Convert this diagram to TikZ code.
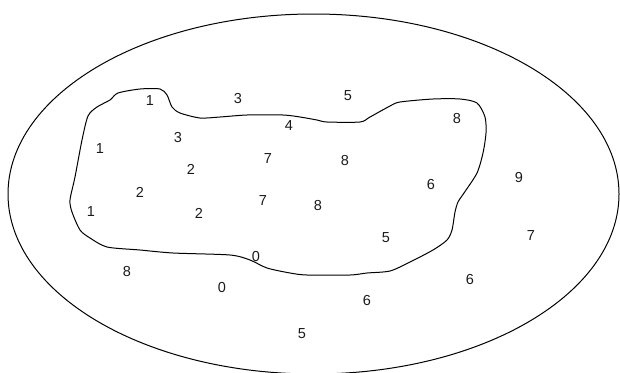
\documentclass[tikz,border=0pt]{standalone}
\usepackage{fontspec}
\setmainfont{Liberation Sans}
\usepackage{tikz}
\definecolor{lcol}{HTML}{000000}
\definecolor{tcol}{HTML}{1A1A1A}
\tikzset{
  num/.style={tcol, font=\fontsize{14.5}{16}\selectfont, inner sep=0pt},
  rim/.style={lcol, line width=1pt}
}

\begin{document}
\begin{tikzpicture}[x=1pt, y=-1pt]
\useasboundingbox (0,0) rectangle (620,372);
% outer region
\draw[rim] (313.5,194) ellipse (305.5 and 180);
% inner region boundary
\draw[rim] plot[smooth cycle, tension=0.45] coordinates {
  (88,116) (97,107) (110,100) (118,93) (140,89) (160,89) (167,95)
  (172,107) (180,113) (200,118) (220,117) (247,115) (283,115) (300,117)
  (317,120) (327,122) (360,122) (370,117) (390,106) (400,102) (433,99)
  (460,99) (477,103) (485,117) (486,133) (483,153) (477,173) (464,193)
  (458,202) (455,212) (452,230) (447,240) (433,250) (410,262) (390,271)
  (367,273) (350,275) (307,275) (290,273) (267,268) (250,260) (230,255)
  (173,253) (140,250) (107,247) (90,238) (80,230) (72,212) (70,200)
  (75,177) (82,140)};
% values inside
\node[num] (i1) at (150,101) {1};
\node[num] (i2) at (289,126) {4};
\node[num] (i3) at (100,149) {1};
\node[num] (i4) at (178,138) {3};
\node[num] (i5) at (268,159) {7};
\node[num] (i6) at (345,161) {8};
\node[num] (i7) at (191,169) {2};
\node[num] (i8) at (457,119) {8};
\node[num] (i9) at (431,185) {6};
\node[num] (i10) at (140,192) {2};
\node[num] (i11) at (91,212) {1};
\node[num] (i12) at (263,201) {7};
\node[num] (i13) at (199,213) {2};
\node[num] (i14) at (318,206) {8};
\node[num] (i15) at (386,238) {5};
\node[num] (i16) at (256,257) {0};
% values outside
\node[num] (o1) at (238,99) {3};
\node[num] (o2) at (348,96) {5};
\node[num] (o3) at (519,178) {9};
\node[num] (o4) at (531,236) {7};
\node[num] (o5) at (127,272) {8};
\node[num] (o6) at (222,288) {0};
\node[num] (o7) at (470,280) {6};
\node[num] (o8) at (367,301) {6};
\node[num] (o9) at (302,334) {5};
\end{tikzpicture}
\end{document}
